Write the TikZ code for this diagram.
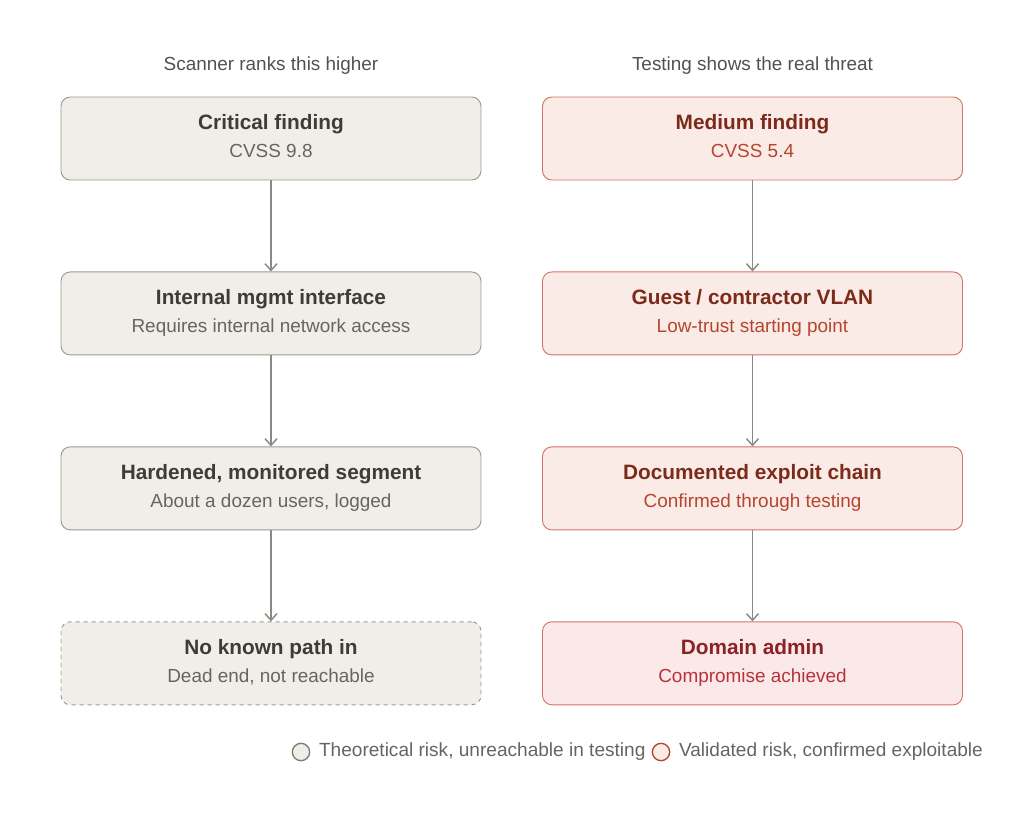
\documentclass[tikz,border=0pt]{standalone}
\usepackage{fontspec}
\setmainfont{Liberation Sans}
\usetikzlibrary{arrows.meta,positioning}
\definecolor{greyfill}{HTML}{F1EEE8}
\definecolor{greyline}{HTML}{9C9A94}
\definecolor{greytitle}{HTML}{3C3C3A}
\definecolor{greysub}{HTML}{66655F}
\definecolor{redfill}{HTML}{FBEBE6}
\definecolor{redline}{HTML}{D27468}
\definecolor{redtitle}{HTML}{7C2A1A}
\definecolor{redsub}{HTML}{B5452F}
\definecolor{lastfill}{HTML}{FBE8E8}
\definecolor{lasttitle}{HTML}{8A2226}
\definecolor{lastsub}{HTML}{B5343A}
\definecolor{arrowgrey}{HTML}{8A8985}
\tikzset{
        box/.style = {draw, rectangle, rounded corners=7pt, line width=0.7pt,
            minimum height=62.25pt, minimum width=315pt, align=center,
            node distance=68.25pt},
        grey/.style = {box, fill=greyfill, draw=greyline},
        red/.style = {box, fill=redfill, draw=redline},
        arrow/.style = {draw=arrowgrey, line width=1.1pt, -{Straight Barb[length=5pt,width=9pt]}},
        head/.style = {font=\fontsize{14.2}{17}\selectfont, text=greysub!80!black},
        legend/.style = {circle, draw, line width=1pt, minimum size=13pt, inner sep=0pt},
        legtext/.style = {font=\fontsize{14.3}{17}\selectfont, text=greysub},
    }
\newcommand{\boxtext}[4]{{\color{#1}\fontsize{15.6}{18}\selectfont\bfseries\rule[-4pt]{0pt}{16pt}#3}\\{\color{#2}\fontsize{14.2}{18}\selectfont\rule[-4pt]{0pt}{20pt}#4}}
\begin{document}
\begin{tikzpicture}[x=0.75pt,y=-0.75pt]
    \useasboundingbox (0,0) rectangle (1024,813);
    \node[head] (lhead) at (271,66) {Scanner ranks this higher};
    \node[head] (rhead) at (752.5,66) {Testing shows the real threat};

    \node[grey] (crit) at (271,138.5) {\boxtext{greytitle}{greysub}{Critical finding}{CVSS 9.8}};
    \node[grey, below=of crit] (mgmt) {\boxtext{greytitle}{greysub}{Internal mgmt interface}{Requires internal network access}};
    \node[grey, below=of mgmt] (seg) {\boxtext{greytitle}{greysub}{Hardened, monitored segment}{About a dozen users, logged}};
    \node[grey, dashed, below=of seg] (dead) {\boxtext{greytitle}{greysub}{No known path in}{Dead end, not reachable}};

    \node[red] (med) at (752.5,138.5) {\boxtext{redtitle}{redsub}{Medium finding}{CVSS 5.4}};
    \node[red, below=of med] (vlan) {\boxtext{redtitle}{redsub}{Guest / contractor VLAN}{Low-trust starting point}};
    \node[red, below=of vlan] (chain) {\boxtext{redtitle}{redsub}{Documented exploit chain}{Confirmed through testing}};
    \node[red, fill=lastfill, below=of chain] (admin) {\boxtext{lasttitle}{lastsub}{Domain admin}{Compromise achieved}};

    \draw[arrow] (crit) -- (mgmt);
    \draw[arrow] (mgmt) -- (seg);
    \draw[arrow] (seg) -- (dead);
    \draw[arrow] (med) -- (vlan);
    \draw[arrow] (vlan) -- (chain);
    \draw[arrow] (chain) -- (admin);

    % legend
    \node[legend, fill=greyfill, draw=greyline!80!black] (lgrey) at (301,752) {};
    \node[right=3pt of lgrey, legtext] (lgreytext) {Theoretical risk, unreachable in testing};
    \node[legend, fill=redfill, draw=redsub] (lred) at (661,752) {};
    \node[right=3pt of lred, legtext] (lredtext) {Validated risk, confirmed exploitable};
\end{tikzpicture}
\end{document}
